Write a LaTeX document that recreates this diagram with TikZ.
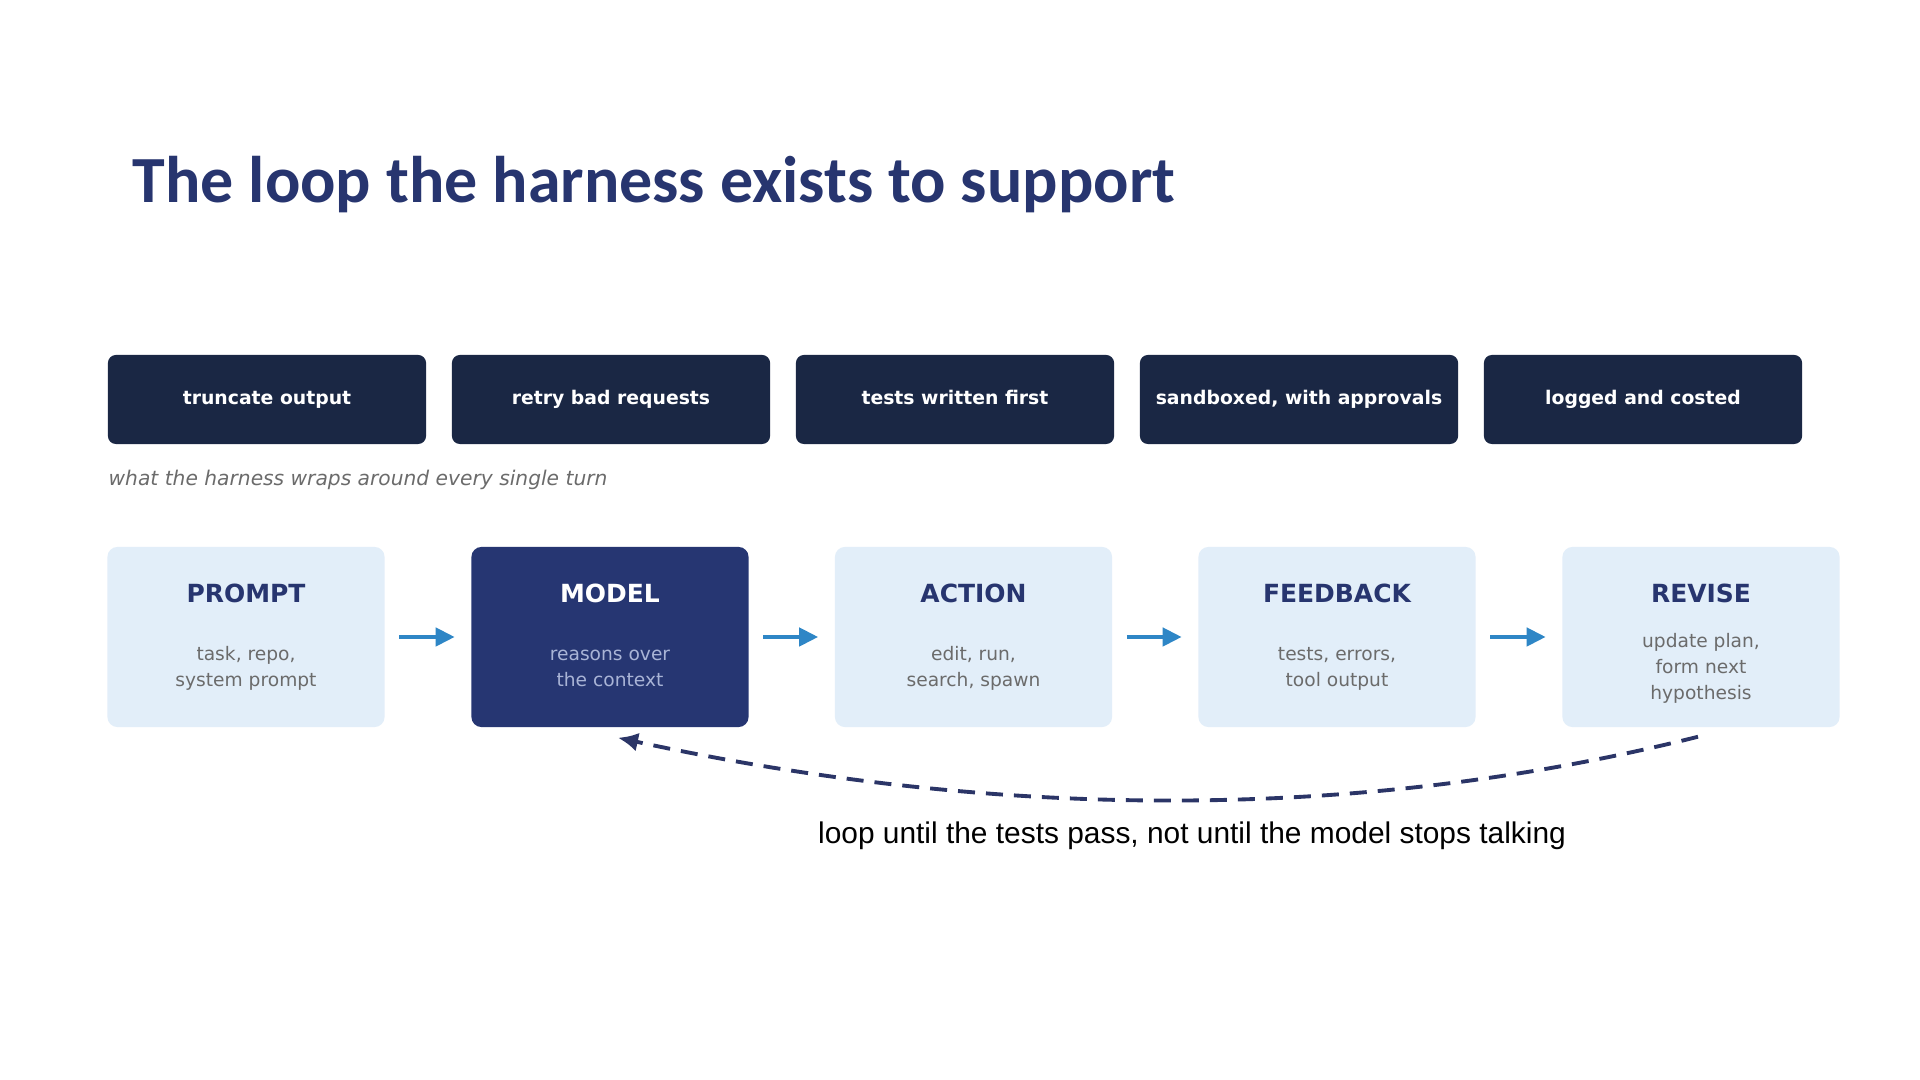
\documentclass[tikz,border=0pt]{standalone}
\usepackage{fontspec}
\setmainfont{DejaVu Sans}
\newfontfamily\headfont{Carlito}
\newfontfamily\notefont{Liberation Sans}
\usetikzlibrary{arrows.meta}

\definecolor{navytop}{HTML}{1A2744}
\definecolor{modelblue}{HTML}{263672}
\definecolor{paleblue}{HTML}{E2EEF9}
\definecolor{headblue}{HTML}{27356F}
\definecolor{subgrey}{HTML}{6B6B6B}
\definecolor{modelsub}{HTML}{A9B4D6}
\definecolor{flowblue}{HTML}{2E86C6}
\definecolor{loopnavy}{HTML}{2B3567}

\tikzset{
  guard/.style={fill=navytop, rounded corners=0.08cm, minimum width=3.18cm,
    minimum height=0.89cm, text=white, text height=0.75em, text depth=0.48em,
    font=\bfseries\fontsize{5.35}{6.5}\selectfont},
  stage/.style={fill=paleblue, rounded corners=0.1cm, minimum width=2.77cm,
    minimum height=1.8cm},
  stagename/.style={text=headblue, font=\bfseries\fontsize{7.1}{8.5}\selectfont},
  stagenote/.style={text=subgrey, align=center, font=\fontsize{5.3}{7.4}\selectfont},
  flow/.style={draw=flowblue, line width=1.2pt, shorten <=0.14cm, shorten >=0.16cm,
    -{Triangle[length=0.19cm,width=0.18cm]}},
  loopback/.style={draw=loopnavy, line width=1.1pt, dash pattern=on 0.17cm off 0.11cm,
    -{Latex[length=0.2cm,width=0.19cm]}}
}

\begin{document}
\begin{tikzpicture}[x=0.01cm, y=-0.01cm]
  \useasboundingbox[fill=white] (0,0) rectangle (1920,1080);

  % title
  \node[anchor=base west, inner sep=0pt, text=headblue,
    font=\headfont\bfseries\fontsize{18.75}{23}\selectfont] (title) at (132,203)
    {The loop the harness exists to support};

  % what the harness does each turn
  \node[guard] (truncate) at (267,399.5) {truncate output};
  \node[guard] (retry) at (611,399.5) {retry bad requests};
  \node[guard] (tests) at (955,399.5) {tests written first};
  \node[guard] (sandbox) at (1299,399.5) {sandboxed, with approvals};
  \node[guard] (logged) at (1643,399.5) {logged and costed};
  \node[anchor=base west, inner sep=0pt, text=subgrey,
    font=\itshape\fontsize{5.75}{7}\selectfont] (caption) at (108,486)
    {what the harness wraps around every single turn};

  % the loop
  \node[stage] (prompt) at (246,637) {};
  \node[stage, fill=modelblue] (model) at (610,637) {};
  \node[stage] (action) at (973.5,637) {};
  \node[stage] (feedback) at (1337,637) {};
  \node[stage] (revise) at (1701,637) {};

  \node[stagename] (prompt-name) at ([yshift=-0.47cm]prompt.north) {PROMPT};
  \node[stagename, text=white] (model-name) at ([yshift=-0.47cm]model.north) {MODEL};
  \node[stagename] (action-name) at ([yshift=-0.47cm]action.north) {ACTION};
  \node[stagename] (feedback-name) at ([yshift=-0.47cm]feedback.north) {FEEDBACK};
  \node[stagename] (revise-name) at ([yshift=-0.47cm]revise.north) {REVISE};

  \node[stagenote] (prompt-note) at ([yshift=-1.225cm]prompt.north) {task, repo,\\system prompt};
  \node[stagenote, text=modelsub] (model-note) at ([yshift=-1.225cm]model.north) {reasons over\\the context};
  \node[stagenote] (action-note) at ([yshift=-1.225cm]action.north) {edit, run,\\search, spawn};
  \node[stagenote] (feedback-note) at ([yshift=-1.225cm]feedback.north) {tests, errors,\\tool output};
  \node[stagenote] (revise-note) at ([yshift=-1.225cm]revise.north) {update plan,\\form next\\hypothesis};

  \draw[flow] (prompt) -- (model);
  \draw[flow] (model) -- (action);
  \draw[flow] (action) -- (feedback);
  \draw[flow] (feedback) -- (revise);

  % back to the model
  \draw[loopback] ([xshift=-0.03cm,yshift=-0.09cm]revise.south)
    .. controls (1362,821) and (1002,821) .. ([xshift=0.08cm,yshift=-0.1cm]model.south);
  \node[anchor=base, inner sep=0pt, font=\notefont\fontsize{8.5}{10}\selectfont]
    (loopnote) at (1192,844) {loop until the tests pass, not until the model stops talking};
\end{tikzpicture}
\end{document}
